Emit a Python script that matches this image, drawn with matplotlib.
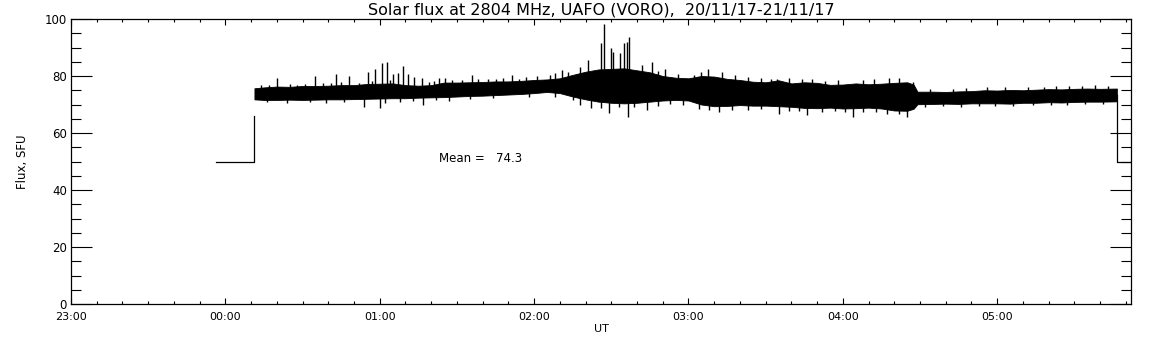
import numpy as np
import matplotlib
matplotlib.use("Agg")
import matplotlib.pyplot as plt
from matplotlib.ticker import MultipleLocator, FuncFormatter

# time in minutes from 00:00 UT (negative = previous day)
lead_t = [-3.5, 11.3, 11.3]
lead_v = [50, 50, 66]
tail_t = [346.5, 346.5, 360]
tail_v = [73.5, 50, 50]

# outer edges of the dense noise band, read every ~5 min
band_t = [11.3, 15, 20, 25, 30, 35, 40, 45, 50, 55, 60, 65, 70, 75, 80, 85, 90,
          95, 100, 105, 110, 115, 120, 125, 130, 135, 140, 145, 150, 155, 160,
          165, 170, 175, 180, 185, 190, 195, 200, 205, 210, 215, 220, 225, 230,
          235, 240, 245, 250, 255, 260, 265, 267.5, 269, 275, 280, 285, 290,
          295, 300, 305, 310, 315, 320, 325, 330, 335, 340, 346.5]
band_top = [75.7, 76.0, 76.3, 76.2, 76.5, 76.5, 76.6, 76.8, 76.8, 77.2, 77.3,
            77.4, 76.8, 76.6, 76.8, 77.7, 77.7, 77.8, 77.9, 78.1, 78.1, 78.3,
            78.6, 78.8, 79.2, 80.4, 81.5, 82.3, 82.5, 82.7, 82.0, 81.3, 80.0,
            79.4, 79.2, 80.0, 79.8, 79.0, 78.6, 78.0, 77.8, 78.5, 77.4, 77.8,
            77.6, 76.9, 77.0, 77.4, 77.1, 77.3, 77.6, 77.8, 77.0, 74.5, 74.5,
            74.4, 74.6, 74.7, 75.0, 74.9, 75.1, 75.0, 75.2, 75.4, 75.3, 75.5,
            75.6, 75.5, 75.6]
band_bot = [71.8, 71.6, 71.6, 71.7, 71.6, 71.7, 71.8, 71.8, 71.9, 72.0, 72.1,
            72.2, 72.2, 72.4, 72.5, 72.6, 72.8, 73.0, 73.1, 73.3, 73.5, 73.7,
            74.0, 74.4, 74.0, 72.8, 71.8, 71.0, 70.6, 70.4, 70.6, 71.0, 71.4,
            71.6, 71.4, 70.0, 69.4, 69.5, 69.8, 69.6, 69.6, 69.4, 69.2, 68.8,
            68.7, 68.9, 68.6, 68.7, 68.9, 68.6, 67.9, 67.8, 68.5, 70.1, 70.2,
            70.3, 70.2, 70.4, 70.4, 70.4, 70.3, 70.6, 70.6, 70.8, 70.7, 70.9,
            71.0, 71.0, 71.1]

# bursts / spikes above the band
spike_up_t = [20, 35, 43, 48, 55.6, 58, 61, 63, 65, 67, 69, 71, 73.5, 76.5, 83,
              85.5, 96, 98, 102, 111.5, 114, 138, 141, 146, 147, 150, 150.5,
              153.5, 155, 156, 157, 162, 166, 187.7, 193, 214.5, 224, 267.4,
              14, 17, 25, 28, 31, 38, 41, 45, 52, 57, 64, 79, 81, 88, 92, 105,
              108, 117, 121, 126, 128, 131, 133, 168, 171, 176, 182, 185, 198,
              203, 208, 212, 219, 228, 233, 238, 248, 252, 258, 262, 274, 283,
              288, 296, 303, 312, 318, 323, 328, 333, 338, 343]
spike_up_v = [79.3, 80, 80.7, 80, 81.5, 82.5, 84.4, 85, 80.8, 81, 83.5, 80.8,
              79.8, 79.2, 79.2, 79.2, 80.4, 79, 79, 80.4, 79, 83.3, 85.6, 91.5,
              98.2, 89.7, 88.5, 88, 91.7, 92, 93.6, 83.9, 85, 82.3, 81.3, 79,
              78.8, 78,
              77.0, 76.9, 77.3, 77.0, 77.2, 77.5, 77.4, 77.9, 77.6, 78.2, 78.5,
              77.9, 78.3, 78.6, 78.5, 79.0, 79.3, 79.5, 80.0, 80.5, 81.0, 82.0,
              81.5, 81.8, 82.5, 80.8, 80.5, 81.5, 80.2, 79.6, 79.3, 79.1, 79.2,
              79.0, 78.4, 78.5, 78.6, 78.9, 79.2, 79.4, 75.6, 75.5, 75.8, 76.0,
              76.1, 76.2, 76.3, 76.5, 76.4, 76.6, 76.7, 76.5]
# dips below the band
spike_dn_t = [54, 60, 62, 77, 142, 146, 149, 156.6, 164, 192, 215, 226, 244, 265,
              16, 24, 33, 39, 46, 68, 73, 82, 87, 95, 104, 118, 128, 135, 138,
              153, 159, 168, 173, 178, 184, 188, 197, 203, 208, 219, 223, 232,
              237, 241, 248, 253, 257, 262, 272, 279, 286, 293, 299, 306, 314,
              321, 327, 334, 341]
spike_dn_v = [69.2, 68.8, 70.5, 69.8, 68.7, 68.7, 67.1, 65.7, 68, 67.5, 66.7,
              66.3, 65.5, 65.5,
              70.8, 70.7, 70.9, 70.6, 71.0, 70.9, 71.3, 71.6, 71.4, 72.0, 72.2,
              72.8, 72.8, 71.5, 70.0, 69.2, 69.0, 69.6, 70.2, 70.0, 68.3, 68.0,
              68.2, 68.1, 68.4, 67.8, 67.6, 67.4, 67.7, 67.2, 67.5, 67.3, 66.8,
              66.6, 69.2, 69.3, 69.0, 69.4, 69.3, 69.5, 69.8, 69.8, 70.0, 70.1,
              70.2]

mean_flux = 74.3

fig = plt.figure(figsize=(11.52, 3.45), dpi=100)
ax = fig.add_axes([71 / 1152, 41 / 345, 1060 / 1152, 285 / 345])

# data
ax.plot(lead_t, lead_v, color="k", lw=0.9)
ax.plot(tail_t, tail_v, color="k", lw=0.9)
ax.fill_between(band_t, band_bot, band_top, color="k", lw=0.6)
mid = (np.interp(spike_up_t, band_t, band_top) + np.interp(spike_up_t, band_t, band_bot)) / 2
ax.vlines(spike_up_t, mid, spike_up_v, color="k", lw=1.0)
mid = (np.interp(spike_dn_t, band_t, band_top) + np.interp(spike_dn_t, band_t, band_bot)) / 2
ax.vlines(spike_dn_t, spike_dn_v, mid, color="k", lw=1.0)

ax.set_xlim(-60, 352)
ax.set_ylim(0, 100)

ax.xaxis.set_major_locator(MultipleLocator(60))
ax.xaxis.set_minor_locator(MultipleLocator(10))
ax.yaxis.set_major_locator(MultipleLocator(20))
ax.yaxis.set_minor_locator(MultipleLocator(5))
ax.xaxis.set_major_formatter(FuncFormatter(lambda v, p: f"{int(v // 60) % 24:02d}:{int(v % 60):02d}"))

ax.tick_params(which="both", direction="in", top=True, right=True, width=0.8,
               labelsize=8, colors="k")
ax.tick_params(axis="x", which="major", length=4.1, pad=6)
ax.tick_params(axis="x", which="minor", length=2.0)
ax.tick_params(axis="y", which="major", length=15, pad=3, labelsize=8.5)
ax.tick_params(axis="y", which="minor", length=7.5)
for s in ax.spines.values():
    s.set_linewidth(0.9)

ax.set_title("Solar flux at 2804 MHz, UAFO (VORO),  20/11/17-21/11/17",
             fontsize=11.5, pad=3)
ax.set_xlabel("UT", fontsize=8, labelpad=1)
ax.set_ylabel("Flux, SFU", fontsize=8.5, labelpad=11)
ax.text(0.347, 0.512, f"Mean =   {mean_flux}", transform=ax.transAxes,
        fontsize=8.5, ha="left", va="center")

fig.savefig("out.png", dpi=100)
